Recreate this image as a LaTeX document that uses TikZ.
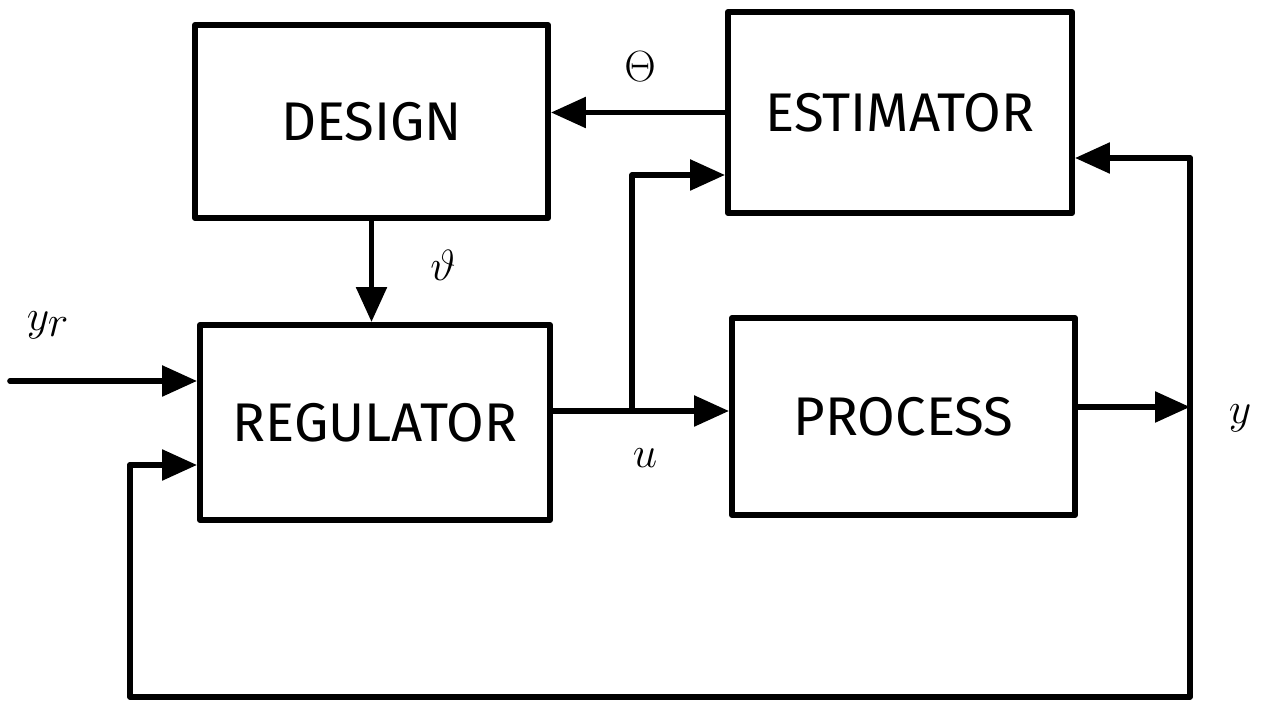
\documentclass[tikz,border=0pt]{standalone}
\usepackage{fontspec}
\setmainfont{Fira Sans}
\usetikzlibrary{arrows.meta}
\begin{document}
\begin{tikzpicture}[x=0.02cm,y=-0.02cm,
  every path/.style={line width=3.2pt, line join=round, line cap=round},
  blk/.style={draw, line width=3.4pt, inner sep=0pt, font=\fontsize{31}{36}\selectfont},
  arr/.style={-{Triangle[length=0.7cm,width=0.6cm]}},
  lbl/.style={inner sep=0pt, font=\fontsize{38}{44}\selectfont}]
\useasboundingbox (0,0) rectangle (1265,715);
\node[blk, minimum width=7.06cm, minimum height=3.86cm] (design) at (371.5,121.5) {DESIGN};
\node[blk, minimum width=6.88cm, minimum height=4.02cm] (est) at (900,112.5) {ESTIMATOR};
\node[blk, minimum width=7.0cm, minimum height=3.9cm] (reg) at (375,422.5) {REGULATOR};
\node[blk, minimum width=6.86cm, minimum height=3.94cm] (proc) at (903.5,416.5) {PROCESS};
\node[lbl] (theta) at (640,67) {$\Theta$};
\node[lbl] (vth) at (443,265) {$\vartheta$};
\node[lbl] (yr) at (48,325) {$y_r$};
\node[lbl] (u) at (645,458) {$u$};
\node[lbl] (y) at (1240,418) {$y$};
\coordinate (in) at (10,381);
\coordinate (uj) at (632,411);
\coordinate (bt) at (632,175);
\coordinate (py) at (1190,407);
\coordinate (tr) at (1190,158);
\coordinate (br) at (1190,697);
\coordinate (bl) at (130,697);
\coordinate (fl) at (130,465);
\draw[arr] (est.west) -- (est.west -| design.east);
\draw[arr] (design.south) -- (design.south |- reg.north);
\draw[arr] (in) -- (in -| reg.west);
\draw[arr] (uj -| reg.east) -- (uj -| proc.west);
\draw[arr] (uj) -- (bt) -- (bt -| est.west);
\draw[arr] (py -| proc.east) -- (py);
\draw[arr] (tr) -- (tr -| est.east);
\draw (tr) -- (br) -- (bl) -- (fl);
\draw[arr] (fl) -- (fl -| reg.west);
\end{tikzpicture}
\end{document}
